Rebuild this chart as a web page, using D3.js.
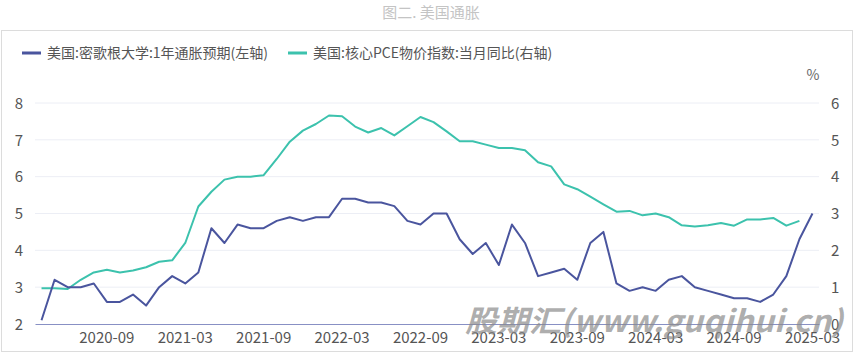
<!DOCTYPE html>
<html><head><meta charset="utf-8">
<script src="https://cdn.jsdelivr.net/npm/d3@7"></script>
<style>body{margin:0;background:#fff;}svg{display:block;font-family:"Noto Sans CJK SC","Noto Sans",sans-serif;}</style>
</head><body><svg id="c" width="863" height="355"></svg>
<script>
const months = ["2020-04","2020-05","2020-06","2020-07","2020-08","2020-09","2020-10","2020-11","2020-12",
"2021-01","2021-02","2021-03","2021-04","2021-05","2021-06","2021-07","2021-08","2021-09","2021-10","2021-11","2021-12",
"2022-01","2022-02","2022-03","2022-04","2022-05","2022-06","2022-07","2022-08","2022-09","2022-10","2022-11","2022-12",
"2023-01","2023-02","2023-03","2023-04","2023-05","2023-06","2023-07","2023-08","2023-09","2023-10","2023-11","2023-12",
"2024-01","2024-02","2024-03","2024-04","2024-05","2024-06","2024-07","2024-08","2024-09","2024-10","2024-11","2024-12",
"2025-01","2025-02","2025-03"];
const michigan = [2.1,3.2,3.0,3.0,3.1,2.6,2.6,2.8,2.5,
3.0,3.3,3.1,3.4,4.6,4.2,4.7,4.6,4.6,4.8,4.9,4.8,
4.9,4.9,5.4,5.4,5.3,5.3,5.2,4.8,4.7,5.0,5.0,4.3,
3.9,4.2,3.6,4.7,4.2,3.3,3.4,3.5,3.2,4.2,4.5,3.1,
2.9,3.0,2.9,3.2,3.3,3.0,2.9,2.8,2.7,2.7,2.6,2.8,
3.3,4.3,5.0];
const corePCE = [0.97,0.97,0.95,1.2,1.4,1.47,1.4,1.45,1.54,
1.69,1.73,2.2,3.19,3.59,3.92,4.0,4.0,4.04,4.48,4.95,5.25,
5.43,5.66,5.64,5.36,5.2,5.32,5.12,5.37,5.62,5.48,5.23,4.96,
4.96,4.87,4.78,4.78,4.72,4.39,4.28,3.79,3.66,3.46,3.25,3.05,
3.07,2.95,3.0,2.9,2.68,2.65,2.68,2.74,2.67,2.84,2.84,2.88,
2.67,2.8,null];
const xTickLabels = ["2020-09","2021-03","2021-09","2022-03","2022-09","2023-03","2023-09","2024-03","2024-09","2025-03"];
const leftTicks = [2,3,4,5,6,7,8];
const rightTicks = [0,1,2,3,4,5,6];
const seriesNames = ["美国:密歌根大学:1年通胀预期(左轴)","美国:核心PCE物价指数:当月同比(右轴)"];
const colors = ["#4a559e","#3cc2ad"];

const svg = d3.select("#c");
svg.append("text").attr("x",431).attr("y",18).attr("text-anchor","middle")
  .attr("font-size",15).attr("fill","#c4c4c4").text("图二. 美国通胀");
svg.append("rect").attr("x",1.5).attr("y",30.5).attr("width",851).attr("height",321)
  .attr("fill","#fff").attr("stroke","#dcdcdc");

const x = d3.scaleBand().domain(months).range([35,819]);
const cx = m => x(m) + x.bandwidth()/2;
const yL = d3.scaleLinear().domain([2,8]).range([324,103]);
const yR = d3.scaleLinear().domain([0,6]).range([324,103]);
const ff = '"Noto Sans CJK SC","Noto Sans",sans-serif';

// grid
svg.append("g").selectAll("line").data(leftTicks.slice(1)).join("line")
  .attr("x1",35).attr("x2",819).attr("y1",d=>yL(d)).attr("y2",d=>yL(d))
  .attr("stroke","#eceef5").attr("stroke-width",1);
// bottom axis
const xAxis = d3.axisBottom(x).tickValues(xTickLabels).tickSize(0).tickPadding(0);
const gx = svg.append("g").attr("transform","translate(0,324)").call(xAxis);
gx.select(".domain").attr("stroke","#8890c4").attr("stroke-width",1.2);
gx.selectAll("text").attr("font-size",15).attr("fill","#555").attr("dy",null).attr("y",19)
  .attr("font-family",ff);

// left axis
const gl = svg.append("g").attr("transform","translate(23,0)")
  .call(d3.axisLeft(yL).tickValues(leftTicks).tickFormat(d3.format("d")).tickSize(0).tickPadding(0));
gl.select(".domain").remove();
gl.selectAll("text").attr("font-size",15).attr("fill","#555").attr("dy","0.35em").attr("font-family",ff);
// right axis
const gr = svg.append("g").attr("transform","translate(831,0)")
  .call(d3.axisRight(yR).tickValues(rightTicks).tickFormat(d3.format("d")).tickSize(0).tickPadding(0));
gr.select(".domain").remove();
gr.selectAll("text").attr("font-size",15).attr("fill","#555").attr("dy","0.35em").attr("font-family",ff);
svg.append("text").attr("x",813).attr("y",80).attr("text-anchor","middle")
  .attr("font-size",14).attr("fill","#666").text("%");

// lines
const lineL = d3.line().defined(d=>d[1]!=null).x(d=>cx(d[0])).y(d=>yL(d[1]));
const lineR = d3.line().defined(d=>d[1]!=null).x(d=>cx(d[0])).y(d=>yR(d[1]));
svg.append("path").datum(months.map((m,i)=>[m,corePCE[i]])).attr("d",lineR)
  .attr("fill","none").attr("stroke",colors[1]).attr("stroke-width",2).attr("stroke-linejoin","round");
svg.append("path").datum(months.map((m,i)=>[m,michigan[i]])).attr("d",lineL)
  .attr("fill","none").attr("stroke",colors[0]).attr("stroke-width",2).attr("stroke-linejoin","round");

// legend
const legX = [22,288];
seriesNames.forEach((n,i)=>{
  svg.append("rect").attr("x",legX[i]).attr("y",51.5).attr("width",19).attr("height",3).attr("fill",colors[i]);
  svg.append("text").attr("x",legX[i]+25).attr("y",58).attr("font-size",14).attr("fill","#555").text(n);
});

// watermark
svg.append("text").attr("x",465).attr("y",332).attr("font-size",30).attr("font-weight","bold")
  .attr("font-style","italic").attr("fill","#8a8a8a").attr("fill-opacity",0.7)
  .attr("textLength",378).attr("lengthAdjust","spacingAndGlyphs").text("股期汇(www.guqihui.cn)");
</script></body></html>
